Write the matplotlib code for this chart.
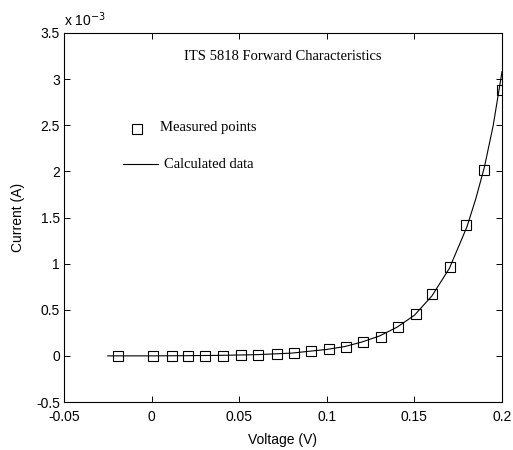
import matplotlib
matplotlib.use("Agg")
import matplotlib.pyplot as plt

# Measured points (voltage V, current in units of 1e-3 A)
meas_v = [-0.019, 0.001, 0.0115, 0.021, 0.0305, 0.0405, 0.051, 0.0605, 0.0715, 0.081,
          0.091, 0.101, 0.111, 0.1205, 0.131, 0.1405, 0.151, 0.160, 0.1705, 0.1795,
          0.190, 0.200]
meas_i = [0.0, 0.0, 0.0, 0.0, 0.0, 0.0, 0.01, 0.01, 0.02, 0.03,
          0.05, 0.075, 0.10, 0.15, 0.21, 0.31, 0.45, 0.67, 0.96, 1.42,
          2.02, 2.88]

# Calculated data curve
calc_v = [-0.025, 0.0, 0.02, 0.04, 0.06, 0.08, 0.10, 0.11, 0.12, 0.13, 0.14,
          0.15, 0.16, 0.17, 0.18, 0.185, 0.19, 0.195, 0.20]
calc_i = [0.0, 0.0, 0.002, 0.006, 0.013, 0.03, 0.07, 0.10, 0.15, 0.215, 0.31,
          0.44, 0.65, 0.95, 1.40, 1.70, 2.05, 2.50, 3.08]

xticks = [-0.05, 0, 0.05, 0.1, 0.15, 0.2]
xtick_labels = ["-0.05", "0", "0.05", "0.1", "0.15", "0.2"]
yticks = [-0.5, 0, 0.5, 1, 1.5, 2, 2.5, 3, 3.5]
ytick_labels = ["-0.5", "0", "0.5", "1", "1.5", "2", "2.5", "3", "3.5"]

fig = plt.figure(figsize=(5.13, 4.5), dpi=100)
L, R, T, B = 64, 502, 33, 402
ax = fig.add_axes([L / 513, 1 - B / 450, (R - L) / 513, (B - T) / 450])

sans = "Liberation Sans"
serif = "Liberation Serif"

ax.plot(calc_v, calc_i, color="black", linewidth=0.8)
ax.plot(meas_v, meas_i, linestyle="none", marker="s", markersize=7.4,
        markerfacecolor="none", markeredgecolor="black", markeredgewidth=0.8)

ax.set_xlim(-0.05, 0.2)
ax.set_ylim(-0.5, 3.5)
ax.set_xticks(xticks)
ax.set_xticklabels(xtick_labels, fontfamily=sans, fontsize=10)
ax.set_yticks(yticks)
ax.set_yticklabels(ytick_labels, fontfamily=sans, fontsize=10)
ax.tick_params(direction="in", top=True, right=True, length=4, width=0.7)
ax.tick_params(axis="x", pad=6)
ax.tick_params(axis="y", pad=3)
for s in ax.spines.values():
    s.set_linewidth(0.8)

ax.set_xlabel("Voltage (V)", fontfamily=sans, fontsize=10, labelpad=6)
ax.set_ylabel("Current (A)", fontfamily=sans, fontsize=10, labelpad=8)

def fx(px):
    return (px - L) / (R - L)

def fy(py):
    return (B - py) / (B - T)

ax.text(0.5, fy(57), "ITS 5818 Forward Characteristics", transform=ax.transAxes,
        ha="center", va="center", fontfamily=serif, fontsize=10.5)

fig.text(L / 513, 1 - 20 / 450, r"x 10$^{-3}$", ha="left", va="center",
         fontfamily=sans, fontsize=10)

# Legend (manual, matching reference placement)
ax.plot([fx(137)], [fy(129)], transform=ax.transAxes, marker="s", markersize=6.6,
        markerfacecolor="none", markeredgecolor="black", markeredgewidth=0.8,
        linestyle="none")
ax.text(fx(160), fy(127), "Measured points", transform=ax.transAxes,
        ha="left", va="center", fontfamily=serif, fontsize=10.5)
ax.plot([fx(122.5), fx(157.5)], [fy(163.5), fy(163.5)], transform=ax.transAxes,
        color="black", linewidth=0.8)
ax.text(fx(163.5), fy(164.5), "Calculated data", transform=ax.transAxes,
        ha="left", va="center", fontfamily=serif, fontsize=10.5)

fig.savefig("out.png", dpi=100)
